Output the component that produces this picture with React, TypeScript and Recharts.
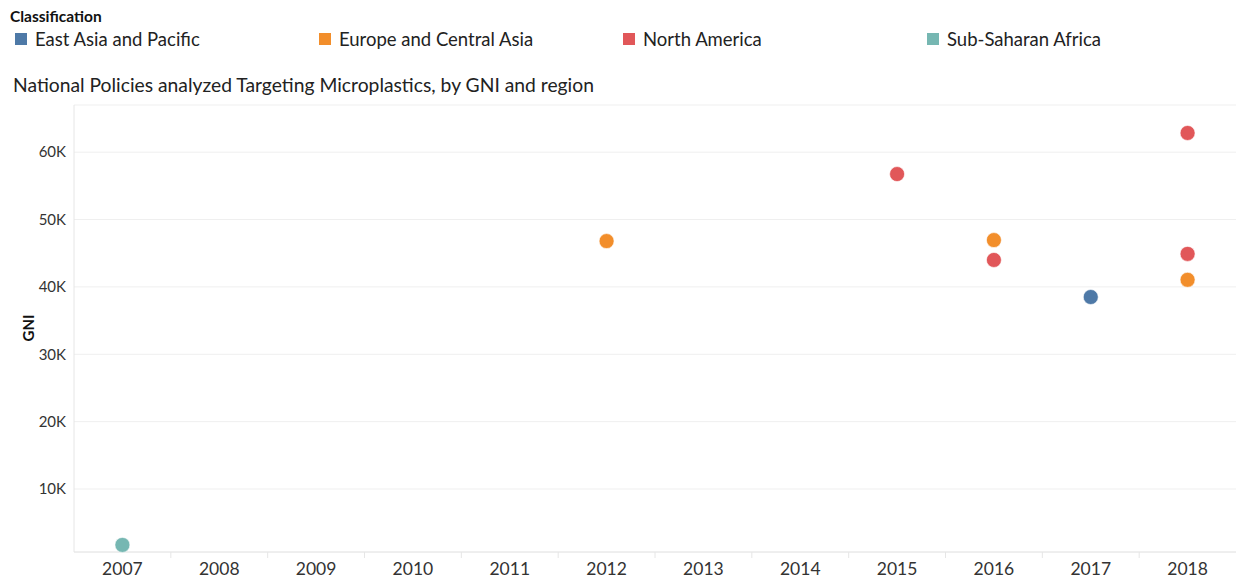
import React from "react";
import { ScatterChart, Scatter, XAxis, YAxis, CartesianGrid } from "recharts";

const years = [2007, 2008, 2009, 2010, 2011, 2012, 2013, 2014, 2015, 2016, 2017, 2018];
const yTicks = [10000, 20000, 30000, 40000, 50000, 60000];

const eastAsiaPacific = [{ year: 2017, gni: 38500 }];
const europeCentralAsia = [
  { year: 2012, gni: 46800 },
  { year: 2016, gni: 46950 },
  { year: 2018, gni: 41050 },
];
const northAmerica = [
  { year: 2015, gni: 56750 },
  { year: 2016, gni: 44000 },
  { year: 2018, gni: 62850 },
  { year: 2018, gni: 44900 },
];
const subSaharanAfrica = [{ year: 2007, gni: 1700 }];

const series = [
  { name: "East Asia and Pacific", color: "#4e79a7", data: eastAsiaPacific },
  { name: "Europe and Central Asia", color: "#f28e2b", data: europeCentralAsia },
  { name: "North America", color: "#e15759", data: northAmerica },
  { name: "Sub-Saharan Africa", color: "#76b7b2", data: subSaharanAfrica },
];

const FONT = "Lato, 'Noto Sans', sans-serif";
const W = 1236;
const H = 579;
const PLOT_LEFT = 74;
const PLOT_TOP = 105;
const PLOT_BOTTOM = 552;
const BAND = (W - PLOT_LEFT) / years.length;

const fmtK = (v: number) => `${Math.round(v / 1000)}K`;

const XTick = (props: any) => {
  const { x, y, payload, index } = props;
  return (
    <g>
      {index > 0 && (
        <line x1={x - BAND / 2} x2={x - BAND / 2} y1={PLOT_BOTTOM} y2={PLOT_BOTTOM + 6} stroke="#e6e6e6" />
      )}
      <text x={x} y={y + 15} textAnchor="middle" fontSize={17.5} fill="#333" fontFamily={FONT}>
        {payload.value}
      </text>
    </g>
  );
};

const Dot = (color: string) => (props: any) => (
  <circle cx={props.cx} cy={props.cy} r={7.5} fill={color} stroke="#fff" strokeWidth={0.6} />
);

export default function App() {
  return (
    <div style={{ position: "absolute", left: 0, top: 0, width: W, height: H, background: "#fff", fontFamily: FONT, color: "#222" }}>
      <div style={{ position: "absolute", left: 10, top: 7, fontSize: 15.5, fontWeight: 700, color: "#111" }}>
        Classification
      </div>
      {series.map((s, i) => (
        <div key={s.name} style={{ position: "absolute", left: 15 + i * 304, top: 28, display: "flex", alignItems: "center", fontSize: 18.5, color: "#222" }}>
          <span style={{ display: "inline-block", width: 12, height: 12, background: s.color, marginRight: 8 }} />
          <span>{s.name}</span>
        </div>
      ))}
      <div style={{ position: "absolute", left: 13, top: 73, fontSize: 19.3, color: "#222" }}>
        National Policies analyzed Targeting Microplastics, by GNI and region
      </div>
      <div style={{ position: "absolute", left: 28, top: 328, transform: "translate(-50%, -50%) rotate(-90deg)", fontSize: 15, fontWeight: 700, color: "#111" }}>
        GNI
      </div>
      <div style={{ position: "absolute", left: 0, top: 0 }}>
        <ScatterChart width={W} height={H} margin={{ top: PLOT_TOP, right: 0, bottom: 0, left: 14 }}>
          <CartesianGrid vertical={false} stroke="#efefef" />
          <XAxis
            type="number"
            dataKey="year"
            domain={[2006.5, 2018.5]}
            ticks={years}
            interval={0}
            height={H - PLOT_BOTTOM}
            axisLine={{ stroke: "#e6e6e6" }}
            tickLine={false}
            tick={<XTick />}
          />
          <YAxis
            type="number"
            dataKey="gni"
            domain={[650, 67000]}
            ticks={yTicks}
            width={60}
            axisLine={{ stroke: "#e6e6e6" }}
            tickLine={false}
            tickFormatter={fmtK}
            tick={{ fontSize: 15, fill: "#333", fontFamily: FONT }}
          />
          {series.map((s) => (
            <Scatter key={s.name} name={s.name} data={s.data} fill={s.color} shape={Dot(s.color)} isAnimationActive={false} />
          ))}
        </ScatterChart>
      </div>
    </div>
  );
}
